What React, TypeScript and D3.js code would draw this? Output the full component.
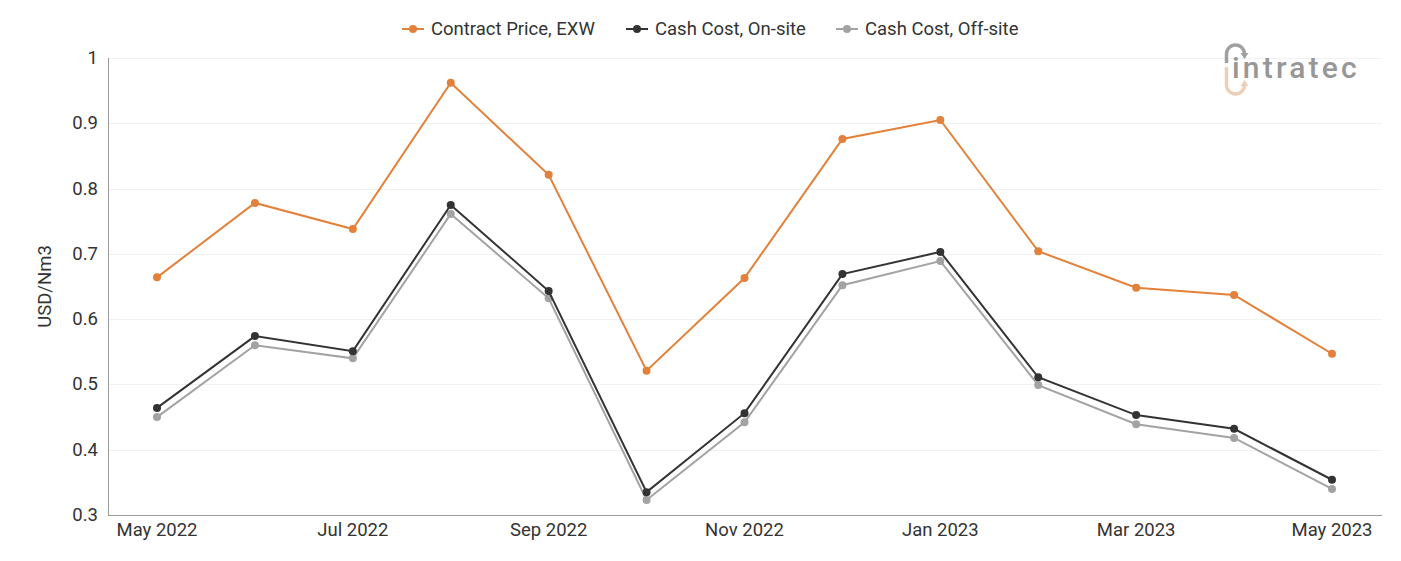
import React, { useEffect, useRef } from "react";
import * as d3 from "d3";

const months = [
  "May 2022", "Jun 2022", "Jul 2022", "Aug 2022", "Sep 2022", "Oct 2022", "Nov 2022",
  "Dec 2022", "Jan 2023", "Feb 2023", "Mar 2023", "Apr 2023", "May 2023",
];
const contractPrice = [0.664, 0.778, 0.738, 0.962, 0.821, 0.521, 0.663, 0.876, 0.905, 0.704, 0.648, 0.637, 0.547];
const cashOnSite = [0.464, 0.574, 0.551, 0.775, 0.643, 0.335, 0.456, 0.669, 0.703, 0.511, 0.453, 0.432, 0.354];
const cashOffSite = [0.45, 0.56, 0.54, 0.761, 0.632, 0.323, 0.442, 0.652, 0.689, 0.499, 0.439, 0.418, 0.34];
const yTicks = [0.3, 0.4, 0.5, 0.6, 0.7, 0.8, 0.9, 1];
const seriesNames = ["Contract Price, EXW", "Cash Cost, On-site", "Cash Cost, Off-site"];
const seriesColors = ["#e3813a", "#333333", "#a3a3a3"];

const W = 1401;
const H = 561;
const FONT = "Roboto, 'Noto Sans', sans-serif";
const FS = "18.5px";

const App = () => {
  const ref = useRef<SVGSVGElement>(null);

  useEffect(() => {
    const svg = d3.select(ref.current);
    svg.selectAll("*").remove();

    const left = 108;
    const right = 1382;
    const top = 58;
    const bottom = 515;

    const x = d3.scalePoint().domain(months).range([157, 1332]);
    const y = d3.scaleLinear().domain([0.3, 1]).range([bottom, top]);

    // gridlines
    svg
      .append("g")
      .selectAll("line")
      .data(yTicks.slice(1))
      .join("line")
      .attr("x1", left)
      .attr("x2", right)
      .attr("y1", (d) => Math.round(y(d)) + 0.5)
      .attr("y2", (d) => Math.round(y(d)) + 0.5)
      .attr("stroke", "#f1f1f1")
      .attr("stroke-width", 1);

    // axes lines
    svg.append("line").attr("x1", left + 0.5).attr("x2", left + 0.5).attr("y1", top).attr("y2", bottom)
      .attr("stroke", "#9a9a9a");
    svg.append("line").attr("x1", left).attr("x2", right).attr("y1", bottom + 0.5).attr("y2", bottom + 0.5)
      .attr("stroke", "#9a9a9a");

    // y tick labels
    svg
      .append("g")
      .selectAll("text")
      .data(yTicks)
      .join("text")
      .attr("x", 98)
      .attr("y", (d) => y(d) + 6)
      .attr("text-anchor", "end")
      .attr("font-family", FONT)
      .attr("font-size", FS)
      .attr("fill", "#333")
      .text((d) => d3.format("~g")(d));

    // x tick labels
    svg
      .append("g")
      .selectAll("text")
      .data(months.filter((_, i) => i % 2 === 0))
      .join("text")
      .attr("x", (d) => x(d)!)
      .attr("y", 536)
      .attr("text-anchor", "middle")
      .attr("font-family", FONT)
      .attr("font-size", FS)
      .attr("fill", "#333")
      .text((d) => d);

    // y title
    svg
      .append("text")
      .attr("transform", `translate(51, ${(top + bottom) / 2}) rotate(-90)`)
      .attr("text-anchor", "middle")
      .attr("font-family", FONT)
      .attr("font-size", FS)
      .attr("fill", "#333")
      .text("USD/Nm3");

    const line = d3
      .line<number>()
      .x((_, i) => x(months[i])!)
      .y((d) => y(d));

    const all = [contractPrice, cashOnSite, cashOffSite];
    // draw off-site first so on-site sits above
    [2, 1, 0].forEach((s) => {
      const g = svg.append("g");
      g.append("path")
        .attr("d", line(all[s]))
        .attr("fill", "none")
        .attr("stroke", seriesColors[s])
        .attr("stroke-width", 2);
      g.selectAll("circle")
        .data(all[s])
        .join("circle")
        .attr("cx", (_, i) => x(months[i])!)
        .attr("cy", (d) => y(d))
        .attr("r", 4)
        .attr("fill", seriesColors[s]);
    });

    // legend
    const legendX = [402, 626, 836];
    const lg = svg.append("g");
    seriesNames.forEach((name, i) => {
      const gx = legendX[i];
      lg.append("line").attr("x1", gx).attr("x2", gx + 22).attr("y1", 29).attr("y2", 29)
        .attr("stroke", seriesColors[i]).attr("stroke-width", 2);
      lg.append("circle").attr("cx", gx + 11).attr("cy", 29).attr("r", 4).attr("fill", seriesColors[i]);
      lg.append("text")
        .attr("x", gx + 29)
        .attr("y", 35)
        .attr("font-family", FONT)
        .attr("font-size", FS)
        .attr("fill", "#333")
        .text(name);
    });

    // logo
    const logo = svg.append("g");
    logo.append("path")
      .attr("d", "M1226.5 63 L1226.5 54 A9 9 0 0 1 1244.5 54 L1244.5 55")
      .attr("fill", "none").attr("stroke", "#a0a0a0").attr("stroke-width", 3.5);
    logo.append("path").attr("d", "M1240.5 53 L1248.5 53 L1244.5 59 Z").attr("fill", "#a0a0a0");
    logo.append("path")
      .attr("d", "M1226.5 67 L1226.5 85 A9 9 0 0 0 1244.5 85 L1244.5 84")
      .attr("fill", "none").attr("stroke", "#ebcfb6").attr("stroke-width", 3.5);
    logo.append("path").attr("d", "M1240.5 86 L1248.5 86 L1244.5 80 Z").attr("fill", "#ebcfb6");
    logo.append("text")
      .attr("x", 1232)
      .attr("y", 78)
      .attr("font-family", FONT)
      .attr("font-size", "30px")
      .attr("font-weight", 500)
      .attr("letter-spacing", "3.2px")
      .attr("fill", "#979797")
      .text("intratec");
  }, []);

  return (
    <svg
      ref={ref}
      width={W}
      height={H}
      style={{ display: "block", position: "absolute", left: 0, top: 0, background: "#fff" }}
    />
  );
};

export default App;
